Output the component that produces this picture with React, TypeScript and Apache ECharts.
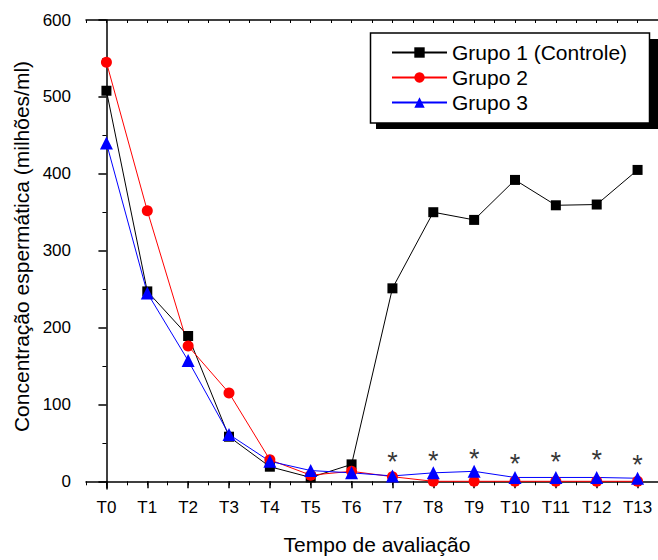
import React, { useEffect, useRef } from "react";
import * as echarts from "echarts";

const categories = ["T0", "T1", "T2", "T3", "T4", "T5", "T6", "T7", "T8", "T9", "T10", "T11", "T12", "T13"];
const grupo1 = [508, 247, 189, 58, 19, 5, 22, 251, 350, 340, 392, 359, 360, 405];
const grupo2 = [545, 352, 176, 115, 28, 8, 13, 6, 0, 0, 0, 0, 0, 0];
const grupo3 = [440, 245, 157, 61, 26, 14, 11, 7, 11, 13, 5, 5, 5, 4];
const asterisks = [null, null, null, null, null, null, null, 25, 27, 29, 23, 25, 28, 21];
const yMajorTicks = [0, 100, 200, 300, 400, 500, 600];
const yMinorTicks = [50, 150, 250, 350, 450, 550];

const FONT = '"Liberation Sans", Arial, sans-serif';

export default function App() {
  const ref = useRef<HTMLDivElement>(null);
  useEffect(() => {
    document.body.style.margin = "0";
    const chart = echarts.init(ref.current!, null, { renderer: "svg" });
    const grid = { left: 86, top: 20, width: 575, height: 469 };
    chart.setOption({
      animation: false,
      textStyle: { fontFamily: FONT },
      grid,
      graphic: [
        { type: "rect", z: 1, shape: { x: 376, y: 39, width: 282, height: 90 }, style: { fill: "#000" } },
        { type: "rect", z: 2, shape: { x: 370.5, y: 33, width: 279, height: 90 }, style: { fill: "#fff", stroke: "#000", lineWidth: 1.5 } },
      ],
      legend: {
        z: 10,
        orient: "vertical",
        left: 391,
        top: 42,
        padding: 0,
        itemGap: 4,
        itemWidth: 55,
        itemHeight: 13,
        textStyle: { fontSize: 21, color: "#000", fontFamily: FONT, lineHeight: 21 },
        data: ["Grupo 1 (Controle)", "Grupo 2", "Grupo 3"],
      },
      xAxis: [
        {
          type: "category",
          data: categories,
          boundaryGap: true,
          name: "Tempo de avaliação",
          nameLocation: "middle",
          nameGap: 45,
          nameTextStyle: { fontSize: 21, color: "#000", fontFamily: FONT, padding: [0, 0, 0, 10] },
          axisLine: { show: true, lineStyle: { color: "#000", width: 1.5 } },
          axisTick: { show: true, alignWithLabel: true, length: 7, lineStyle: { color: "#000", width: 1.5 } },
          axisLabel: { fontSize: 17, color: "#000", margin: 10, fontFamily: FONT },
          splitLine: { show: false },
        },
        {
          type: "value",
          position: "bottom",
          min: -1,
          max: 27,
          interval: 1,
          axisLine: { show: false },
          axisTick: { show: true, length: 4, lineStyle: { color: "#000", width: 1 } },
          axisLabel: { show: false },
          splitLine: { show: false },
        },
        {
          type: "value",
          position: "top",
          min: -1,
          max: 27,
          interval: 1,
          axisLine: { show: true, lineStyle: { color: "#000", width: 1.5 } },
          axisTick: { show: true, inside: true, length: 3, lineStyle: { color: "#000", width: 1 } },
          axisLabel: { show: false },
          splitLine: { show: false },
        },
      ],
      yAxis: [
        {
          type: "value",
          min: -10,
          max: 600,
          name: "Concentração espermática (milhões/ml)",
          nameLocation: "middle",
          nameGap: 52,
          nameTextStyle: { fontSize: 21, color: "#000", fontFamily: FONT, padding: [0, 0, 0, 16] },
          axisLine: { show: true, lineStyle: { color: "#000", width: 1.5 } },
          axisTick: { show: true, length: 8, customValues: yMajorTicks, lineStyle: { color: "#000", width: 1.5 } },
          axisLabel: { fontSize: 17, color: "#000", margin: 15, customValues: yMajorTicks, fontFamily: FONT },
          splitLine: { show: false },
        },
        {
          type: "value",
          min: -10,
          max: 600,
          position: "left",
          axisLine: { show: false },
          axisTick: { show: true, length: 4, customValues: yMinorTicks, lineStyle: { color: "#000", width: 1 } },
          axisLabel: { show: false, customValues: yMinorTicks },
          splitLine: { show: false },
        },
      ],
      series: [
        {
          name: "Grupo 1 (Controle)",
          type: "line",
          data: grupo1,
          symbol: "rect",
          symbolSize: 10,
          itemStyle: { color: "#000" },
          lineStyle: { color: "#000", width: 1 },
        },
        {
          name: "Grupo 2",
          type: "line",
          data: grupo2,
          symbol: "circle",
          symbolSize: 11,
          itemStyle: { color: "#ff0000" },
          lineStyle: { color: "#ff0000", width: 1 },
        },
        {
          name: "Grupo 3",
          type: "line",
          data: grupo3,
          symbol: "triangle",
          symbolSize: 13,
          itemStyle: { color: "#0000ff" },
          lineStyle: { color: "#0000ff", width: 1 },
        },
        {
          name: "sig",
          type: "scatter",
          data: asterisks,
          symbolSize: 0,
          silent: true,
          label: {
            show: true,
            position: "inside",
            formatter: "*",
            fontSize: 27,
            color: "#000",
            fontFamily: FONT,
          },
        },
      ],
    });
    return () => chart.dispose();
  }, []);
  return <div ref={ref} style={{ width: 658, height: 560 }} />;
}
